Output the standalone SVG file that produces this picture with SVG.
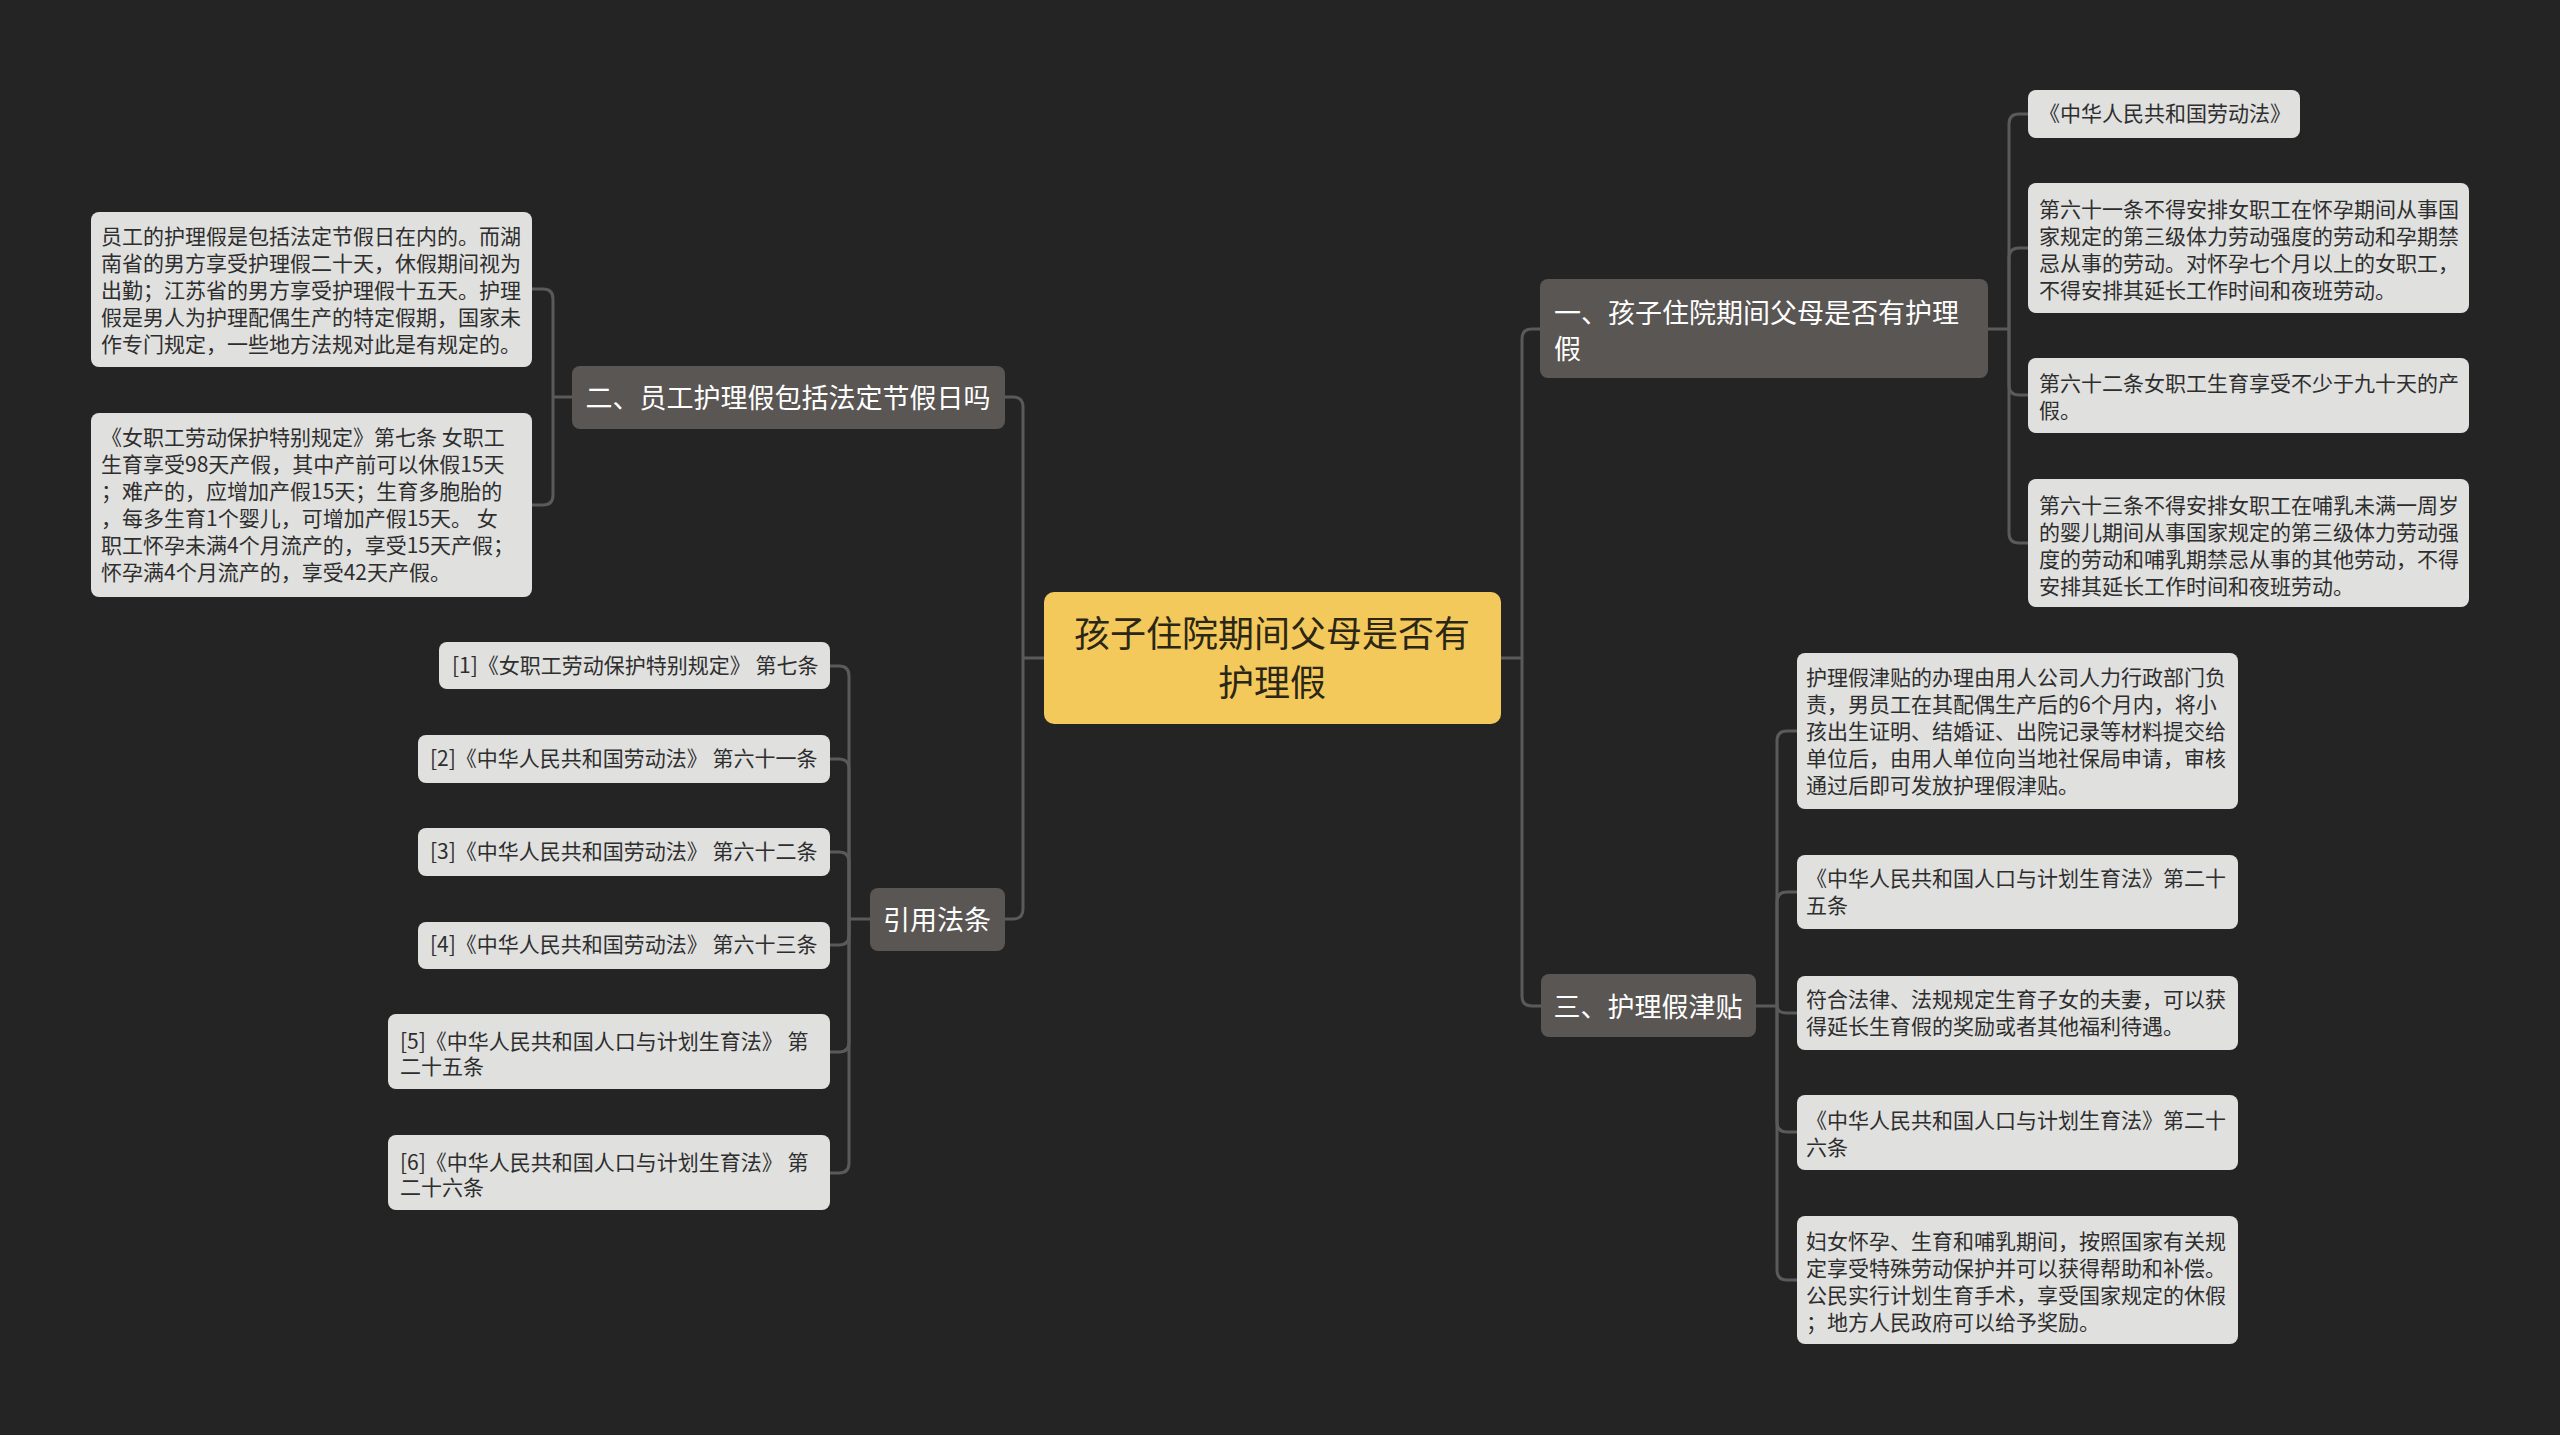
<svg xmlns="http://www.w3.org/2000/svg" width="2560" height="1435" viewBox="0 0 2560 1435">
<style>
text{font-family:"Microsoft YaHei","Noto Sans CJK SC","Noto Sans",sans-serif;dominant-baseline:central}
.root rect{fill:#f3c95c}
.root text{font-size:36px;fill:#2b2616;text-anchor:middle;transform:translateY(-2px)}
.br rect{fill:#5a5653}
.br text{font-size:27px;fill:#ffffff;transform:translateY(-1px)}
.lf rect{fill:#e0e0de}
.lf text{font-size:21px;fill:#2e2e2e;transform:translateY(-2px)}
.mid{text-anchor:middle}
#connectors path{fill:none;stroke:#5a5a5a;stroke-width:3}
</style>
<rect width="2560" height="1435" fill="#242424"/>
<g id="connectors">
<path d="M1044,658 H1023"/>
<path d="M1023,658 V407 Q1023,397 1013,397 H1005"/>
<path d="M1023,658 V909 Q1023,919 1013,919 H1005"/>
<path d="M1501,658 H1522"/>
<path d="M1522,658 V339 Q1522,329 1532,329 H1540"/>
<path d="M1522,658 V996 Q1522,1006 1532,1006 H1541"/>
<path d="M572,397 H553"/>
<path d="M553,397 V299 Q553,289 543,289 H532"/>
<path d="M553,397 V495 Q553,505 543,505 H532"/>
<path d="M870,919 H849"/>
<path d="M849,919 V676 Q849,666 839,666 H830"/>
<path d="M849,919 V769 Q849,759 839,759 H830"/>
<path d="M849,919 V862 Q849,852 839,852 H830"/>
<path d="M849,919 V935 Q849,945 839,945 H830"/>
<path d="M849,919 V1042 Q849,1052 839,1052 H830"/>
<path d="M849,919 V1163 Q849,1173 839,1173 H830"/>
<path d="M1988,329 H2009"/>
<path d="M2009,329 V124 Q2009,114 2019,114 H2028"/>
<path d="M2009,329 V258 Q2009,248 2019,248 H2028"/>
<path d="M2009,329 V385 Q2009,395 2019,395 H2028"/>
<path d="M2009,329 V533 Q2009,543 2019,543 H2028"/>
<path d="M1756,1006 H1777"/>
<path d="M1777,1006 V741 Q1777,731 1787,731 H1797"/>
<path d="M1777,1006 V902 Q1777,892 1787,892 H1797"/>
<path d="M1777,1006 V1006 Q1777,1013 1787,1013 H1797"/>
<path d="M1777,1006 V1122 Q1777,1132 1787,1132 H1797"/>
<path d="M1777,1006 V1270 Q1777,1280 1787,1280 H1797"/>
</g>
<g id="root" class="root">
<rect x="1044" y="592" width="457" height="132" rx="10"/>
<text x="1272" y="633">孩子住院期间父母是否有</text>
<text x="1272" y="682">护理假</text>
</g>
<g id="b2" class="br">
<rect x="572" y="366" width="433" height="63" rx="8"/>
<text x="788" y="397" class="mid">二、员工护理假包括法定节假日吗</text>
</g>
<g id="bref" class="br">
<rect x="870" y="888" width="135" height="63" rx="8"/>
<text x="937" y="919" class="mid">引用法条</text>
</g>
<g id="b1" class="br">
<rect x="1540" y="279" width="448" height="99" rx="8"/>
<text x="1554" y="312">一、孩子住院期间父母是否有护理</text>
<text x="1554" y="348">假</text>
</g>
<g id="b3" class="br">
<rect x="1541" y="974" width="215" height="63" rx="8"/>
<text x="1648" y="1006" class="mid">三、护理假津贴</text>
</g>
<g id="a1" class="lf">
<rect x="91" y="212" width="441" height="155" rx="8"/>
<text x="101" y="237">员工的护理假是包括法定节假日在内的。而湖</text>
<text x="101" y="264">南省的男方享受护理假二十天，休假期间视为</text>
<text x="101" y="291">出勤；江苏省的男方享受护理假十五天。护理</text>
<text x="101" y="318">假是男人为护理配偶生产的特定假期，国家未</text>
<text x="101" y="345">作专门规定，一些地方法规对此是有规定的。</text>
</g>
<g id="a2" class="lf">
<rect x="91" y="413" width="441" height="184" rx="8"/>
<text x="101" y="438">《女职工劳动保护特别规定》第七条 女职工</text>
<text x="101" y="465">生育享受98天产假，其中产前可以休假15天</text>
<text x="101" y="492">；难产的，应增加产假15天；生育多胞胎的</text>
<text x="101" y="519">，每多生育1个婴儿，可增加产假15天。 女</text>
<text x="101" y="546">职工怀孕未满4个月流产的，享受15天产假；</text>
<text x="101" y="573">怀孕满4个月流产的，享受42天产假。</text>
</g>
<g id="r1" class="lf">
<rect x="439" y="642" width="391" height="47" rx="8"/>
<text x="452" y="666">[1]《女职工劳动保护特别规定》 第七条</text>
</g>
<g id="r2" class="lf">
<rect x="418" y="735" width="412" height="48" rx="8"/>
<text x="430" y="759">[2]《中华人民共和国劳动法》 第六十一条</text>
</g>
<g id="r3" class="lf">
<rect x="418" y="828" width="412" height="48" rx="8"/>
<text x="430" y="852">[3]《中华人民共和国劳动法》 第六十二条</text>
</g>
<g id="r4" class="lf">
<rect x="418" y="922" width="412" height="47" rx="8"/>
<text x="430" y="945">[4]《中华人民共和国劳动法》 第六十三条</text>
</g>
<g id="r5" class="lf">
<rect x="388" y="1014" width="442" height="75" rx="8"/>
<text x="400" y="1042">[5]《中华人民共和国人口与计划生育法》 第</text>
<text x="400" y="1067">二十五条</text>
</g>
<g id="r6" class="lf">
<rect x="388" y="1135" width="442" height="75" rx="8"/>
<text x="400" y="1163">[6]《中华人民共和国人口与计划生育法》 第</text>
<text x="400" y="1188">二十六条</text>
</g>
<g id="c1" class="lf">
<rect x="2028" y="90" width="272" height="48" rx="8"/>
<text x="2039" y="114">《中华人民共和国劳动法》</text>
</g>
<g id="c2" class="lf">
<rect x="2028" y="183" width="441" height="130" rx="8"/>
<text x="2039" y="210">第六十一条不得安排女职工在怀孕期间从事国</text>
<text x="2039" y="237">家规定的第三级体力劳动强度的劳动和孕期禁</text>
<text x="2039" y="264">忌从事的劳动。对怀孕七个月以上的女职工，</text>
<text x="2039" y="291">不得安排其延长工作时间和夜班劳动。</text>
</g>
<g id="c3" class="lf">
<rect x="2028" y="358" width="441" height="75" rx="8"/>
<text x="2039" y="384">第六十二条女职工生育享受不少于九十天的产</text>
<text x="2039" y="411">假。</text>
</g>
<g id="c4" class="lf">
<rect x="2028" y="479" width="441" height="128" rx="8"/>
<text x="2039" y="506">第六十三条不得安排女职工在哺乳未满一周岁</text>
<text x="2039" y="533">的婴儿期间从事国家规定的第三级体力劳动强</text>
<text x="2039" y="560">度的劳动和哺乳期禁忌从事的其他劳动，不得</text>
<text x="2039" y="587">安排其延长工作时间和夜班劳动。</text>
</g>
<g id="d1" class="lf">
<rect x="1797" y="653" width="441" height="156" rx="8"/>
<text x="1806" y="678">护理假津贴的办理由用人公司人力行政部门负</text>
<text x="1806" y="705">责，男员工在其配偶生产后的6个月内，将小</text>
<text x="1806" y="732">孩出生证明、结婚证、出院记录等材料提交给</text>
<text x="1806" y="759">单位后，由用人单位向当地社保局申请，审核</text>
<text x="1806" y="786">通过后即可发放护理假津贴。</text>
</g>
<g id="d2" class="lf">
<rect x="1797" y="855" width="441" height="74" rx="8"/>
<text x="1806" y="879">《中华人民共和国人口与计划生育法》第二十</text>
<text x="1806" y="906">五条</text>
</g>
<g id="d3" class="lf">
<rect x="1797" y="976" width="441" height="74" rx="8"/>
<text x="1806" y="1000">符合法律、法规规定生育子女的夫妻，可以获</text>
<text x="1806" y="1027">得延长生育假的奖励或者其他福利待遇。</text>
</g>
<g id="d4" class="lf">
<rect x="1797" y="1095" width="441" height="75" rx="8"/>
<text x="1806" y="1121">《中华人民共和国人口与计划生育法》第二十</text>
<text x="1806" y="1148">六条</text>
</g>
<g id="d5" class="lf">
<rect x="1797" y="1216" width="441" height="128" rx="8"/>
<text x="1806" y="1242">妇女怀孕、生育和哺乳期间，按照国家有关规</text>
<text x="1806" y="1269">定享受特殊劳动保护并可以获得帮助和补偿。</text>
<text x="1806" y="1296">公民实行计划生育手术，享受国家规定的休假</text>
<text x="1806" y="1323">；地方人民政府可以给予奖励。</text>
</g>
</svg>
